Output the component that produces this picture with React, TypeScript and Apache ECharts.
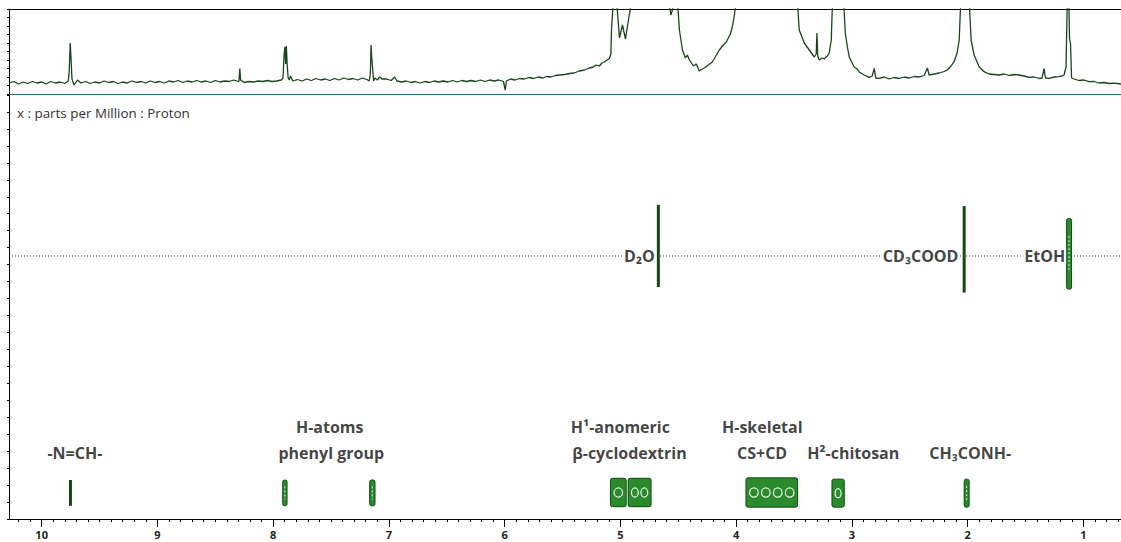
import React, { useEffect, useRef } from "react";
import * as echarts from "echarts";

const PPM_MIN = 0.675;
const PPM_MAX = 10.282;

const majorTicks = [1, 2, 3, 4, 5, 6, 7, 8, 9, 10];

// 1D proton spectrum trace: [ppm, intensity]
const spectrum: [number, number][] = [
  [10.28, 11], [10.24, 12.5], [10.2, 10], [10.16, 12], [10.12, 10.5], [10.08, 12.5], [10.04, 11], [10.0, 12], [9.96, 10], [9.92, 12.5], [9.88, 11], [9.84, 12], [9.8, 10.5], [9.77, 13],
  [9.762, 22], [9.753, 51], [9.746, 36], [9.738, 15], [9.72, 9], [9.69, 14], [9.66, 11],
  [9.62, 12.5], [9.58, 10.5], [9.54, 12], [9.5, 11], [9.46, 13], [9.42, 11.5], [9.38, 12.5], [9.34, 10.5], [9.3, 12], [9.26, 11], [9.22, 13], [9.18, 11.5], [9.14, 12.5], [9.1, 11], [9.06, 13], [9.02, 11.5], [8.98, 12.5], [8.94, 11], [8.9, 13], [8.86, 12], [8.82, 13.5], [8.78, 11.5], [8.74, 13], [8.7, 12], [8.66, 13.5], [8.62, 12], [8.58, 13], [8.54, 11.5], [8.5, 13.5], [8.46, 12], [8.42, 13], [8.38, 12.5], [8.34, 14], [8.3, 12.5],
  [8.295, 13], [8.288, 25.5], [8.281, 14], [8.25, 11.5], [8.21, 12.5], [8.17, 12], [8.13, 13], [8.09, 12.5], [8.05, 13.5], [8.01, 12.5], [7.97, 13], [7.93, 14],
  [7.915, 16], [7.905, 40], [7.898, 47], [7.892, 30], [7.886, 48], [7.879, 30], [7.87, 16], [7.86, 14], [7.85, 18], [7.83, 13],
  [7.79, 14.5], [7.75, 13], [7.71, 15], [7.67, 13.5], [7.63, 15.5], [7.59, 14], [7.55, 15], [7.51, 13.5], [7.47, 15.5], [7.43, 14], [7.39, 16], [7.35, 14.5], [7.31, 15.5], [7.27, 14], [7.23, 16], [7.19, 14.5], [7.17, 13],
  [7.16, 20], [7.154, 49], [7.148, 36], [7.14, 25], [7.132, 13], [7.12, 16], [7.1, 14], [7.08, 17], [7.06, 15],
  [7.02, 15], [6.98, 13.5], [6.95, 17], [6.93, 13], [6.89, 12], [6.85, 13], [6.81, 11.5], [6.77, 12.5], [6.73, 11], [6.69, 12.5], [6.65, 11.5], [6.61, 13], [6.57, 12], [6.53, 13], [6.49, 12], [6.45, 13.5], [6.41, 12], [6.37, 13.5], [6.33, 12.5], [6.29, 13.5], [6.25, 12.5], [6.21, 14], [6.17, 12.5], [6.13, 14], [6.09, 13], [6.05, 14], [6.01, 12.5],
  [5.995, 4], [5.985, 13], [5.95, 15], [5.91, 14], [5.87, 15.5], [5.83, 15], [5.79, 16.5], [5.75, 15.5], [5.71, 17], [5.67, 16], [5.638, 17.5], [5.6, 17], [5.56, 18.5], [5.526, 19], [5.48, 19.5], [5.44, 20.5], [5.4, 21], [5.354, 23], [5.31, 24], [5.267, 26], [5.235, 27], [5.207, 29], [5.181, 28], [5.16, 31], [5.138, 32], [5.115, 34], [5.095, 35.5], [5.082, 40],
  [5.077, 64], [5.06, 95], [5.034, 95], [5.008, 56], [4.982, 69], [4.956, 55], [4.922, 80], [4.896, 95], [4.585, 95], [4.564, 79], [4.521, 95], [4.508, 95],
  [4.49, 64], [4.464, 44], [4.438, 36], [4.421, 39], [4.404, 34], [4.38, 30], [4.369, 28], [4.344, 30], [4.318, 23], [4.292, 25], [4.275, 26], [4.24, 29], [4.206, 32], [4.18, 37], [4.145, 44], [4.111, 49], [4.085, 52], [4.05, 60], [4.033, 67], [4.016, 78], [3.998, 95],
  [3.472, 95], [3.455, 64], [3.411, 51], [3.368, 44], [3.325, 37], [3.308, 40], [3.302, 61], [3.295, 38], [3.282, 34], [3.256, 36], [3.239, 35], [3.213, 38], [3.196, 41], [3.178, 54], [3.167, 95],
  [3.072, 95], [3.057, 61], [3.04, 48], [3.023, 37], [2.997, 31], [2.98, 27], [2.954, 25], [2.937, 22], [2.893, 19], [2.85, 16.7], [2.824, 18], [2.807, 25.7], [2.794, 16], [2.764, 15.7], [2.721, 17], [2.678, 15], [2.635, 16.5], [2.591, 15.5], [2.548, 17], [2.505, 16], [2.462, 17.5], [2.419, 17], [2.376, 18.5], [2.347, 26], [2.333, 19], [2.289, 20], [2.246, 21], [2.203, 22.5], [2.177, 24], [2.143, 28], [2.117, 32.3], [2.091, 41], [2.073, 54], [2.059, 95],
  [1.987, 95], [1.97, 54], [1.944, 39], [1.918, 32], [1.901, 27.3], [1.858, 22.3], [1.815, 20], [1.771, 19.5], [1.728, 19], [1.685, 20], [1.642, 18.5], [1.599, 19.5], [1.556, 19], [1.513, 18], [1.469, 16.7], [1.426, 17], [1.383, 15.5], [1.357, 16], [1.34, 25.7], [1.327, 16], [1.297, 15.7], [1.254, 17], [1.211, 17.3], [1.184, 18], [1.167, 19], [1.15, 27], [1.139, 95],
  [1.126, 95], [1.12, 56], [1.111, 50], [1.102, 16], [1.081, 15], [1.038, 13.5], [0.995, 14], [0.951, 12.3], [0.908, 12.5], [0.865, 11], [0.822, 11.5], [0.779, 10.5], [0.735, 10.8], [0.675, 10],
];

// 2D cross peaks: ppm extent (left/right) and vertical extent (low/high)
const peakPpmLeft = [9.764, 7.917, 7.166, 5.086, 4.933, 3.915, 3.172, 2.03, 4.685, 2.043, 1.145];
const peakPpmRight = [9.738, 7.88, 7.12, 4.95, 4.735, 3.469, 3.066, 1.987, 4.659, 2.017, 1.102];
const peakLow = [3.1, 3.1, 3.1, 2.9, 2.9, 2.8, 2.8, 2.8, 54.7, 53.4, 54.2];
const peakHigh = [9.2, 9.2, 9.2, 9.6, 9.6, 9.7, 9.4, 9.4, 74.1, 73.8, 70.9];
const peakKind = [0, 1, 1, 1, 1, 1, 1, 1, 0, 0, 1];

// annotations
const labelTexts = ["-N=CH-", "H-atoms", "phenyl group", "H¹-anomeric", "β-cyclodextrin", "H-skeletal", "CS+CD", "H²-chitosan", "CH₃CONH-", "D₂O", "CD₃COOD", "EtOH"];
const labelPpm = [9.713, 7.511, 7.498, 5.0, 4.922, 3.774, 3.776, 2.988, 1.978, 4.836, 2.406, 1.334];
const labelLevel = [15.57, 21.77, 15.57, 21.77, 15.57, 21.77, 15.57, 15.57, 15.57, 62.03, 62.03, 62.03];
const solventLevel = 62.03;

const FONT = "'Open Sans', Lato, sans-serif";

export default function App() {
  const ref = useRef<HTMLDivElement>(null);
  useEffect(() => {
    const chart = echarts.init(ref.current!, null, { renderer: "svg" });
    const minorTicks: number[] = [];
    for (let i = 7; i <= 102; i++) minorTicks.push(i / 10);

    const peakData = peakPpmLeft.map((l, i) => [l, peakPpmRight[i], peakLow[i], peakHigh[i], peakKind[i]]);
    const labelData = labelTexts.map((t, i) => {
      const solvent = labelLevel[i] > 50;
      return {
        name: t,
        value: [labelPpm[i], labelLevel[i]],
        label: solvent ? { backgroundColor: "#fff", padding: [1, 1] } : {},
      };
    });

    const option: any = {
      animation: false,
      backgroundColor: "#fff",
      grid: [
        { left: 9, top: 9, width: 1113, height: 85 },
        { left: 9, top: 95, width: 1113, height: 424 },
      ],
      xAxis: [
        {
          gridIndex: 0, type: "value", min: PPM_MIN, max: PPM_MAX, inverse: true, position: "bottom",
          axisLine: { show: true, lineStyle: { color: "#2b6b6b", width: 1 } },
          axisTick: { show: false }, axisLabel: { show: false }, splitLine: { show: false },
        },
        {
          gridIndex: 0, type: "value", min: PPM_MIN, max: PPM_MAX, inverse: true, position: "top",
          axisLine: { show: true, lineStyle: { color: "#000", width: 1 } },
          axisTick: { show: false }, axisLabel: { show: false }, splitLine: { show: false },
        },
        {
          gridIndex: 1, type: "value", min: PPM_MIN, max: PPM_MAX, inverse: true, position: "bottom",
          axisLine: { show: true, lineStyle: { color: "#000", width: 1 } },
          axisTick: { show: true, customValues: minorTicks, length: 3, lineStyle: { color: "#000" } },
          axisLabel: {
            show: true, customValues: majorTicks, margin: 9, fontSize: 11, lineHeight: 12, fontWeight: "bold",
            color: "#222", fontFamily: FONT, formatter: (v: number) => String(Math.round(v)),
          },
          splitLine: { show: false },
        },
        {
          gridIndex: 1, type: "value", min: PPM_MIN, max: PPM_MAX, inverse: true, position: "bottom",
          axisLine: { show: false },
          axisTick: { show: true, customValues: majorTicks, length: 8, lineStyle: { color: "#000" } },
          axisLabel: { show: false }, splitLine: { show: false },
        },
      ],
      yAxis: [
        {
          gridIndex: 0, type: "value", min: 0, max: 85, interval: 8.5,
          axisLine: { show: true, lineStyle: { color: "#000" } },
          axisTick: { show: true, length: 2, lineStyle: { color: "#000" } },
          axisLabel: { show: false }, splitLine: { show: false },
        },
        {
          gridIndex: 1, type: "value", min: 0, max: 100, interval: 4,
          axisLine: { show: true, lineStyle: { color: "#000" } },
          axisTick: { show: true, length: 2, lineStyle: { color: "#000" } },
          axisLabel: { show: false }, splitLine: { show: false },
        },
      ],
      series: [
        {
          type: "line", xAxisIndex: 0, yAxisIndex: 0, data: spectrum, showSymbol: false, symbol: "none",
          clip: true, lineStyle: { color: "#1a441a", width: 1.3 }, silent: true,
        },
        {
          type: "line", xAxisIndex: 2, yAxisIndex: 1,
          data: [[PPM_MAX, solventLevel], [PPM_MIN, solventLevel]],
          showSymbol: false, symbol: "none",
          lineStyle: { color: "#333", width: 1, type: [1, 2] }, silent: true, z: 1,
        },
        {
          type: "custom", xAxisIndex: 2, yAxisIndex: 1, data: peakData, z: 3,
          encode: { x: [0, 1], y: [2, 3] },
          renderItem: (_params: any, api: any) => {
            const a = api.coord([api.value(0), api.value(3)]);
            const b = api.coord([api.value(1), api.value(2)]);
            const kind = api.value(4);
            const x = Math.min(a[0], b[0]);
            const y = Math.min(a[1], b[1]);
            const w = Math.abs(b[0] - a[0]);
            const h = Math.abs(b[1] - a[1]);
            const children: any[] = [];
            if (kind === 0) {
              children.push({ type: "rect", shape: { x, y, width: w, height: h }, style: { fill: "#174717" } });
            } else {
              children.push({
                type: "rect", shape: { x, y, width: w, height: h, r: 2 },
                style: { fill: "#2b8a2b", stroke: "#0f4a0f", lineWidth: 1 },
              });
              if (w >= 10) {
                const n = Math.max(1, Math.round(w / 13));
                const seg = (w - 4) / n;
                for (let i = 0; i < n; i++) {
                  children.push({
                    type: "ellipse",
                    shape: { cx: x + 2 + seg * (i + 0.5), cy: y + h / 2, rx: seg * 0.36, ry: h * 0.16 },
                    style: { fill: "none", stroke: "#eaf6ea", lineWidth: 1.2 },
                  });
                }
              } else {
                children.push({
                  type: "line",
                  shape: { x1: x + w / 2, y1: y + h * 0.25, x2: x + w / 2, y2: y + h * 0.75 },
                  style: { stroke: "#d8eed8", lineWidth: 1, lineDash: [2, 2] },
                });
              }
            }
            return { type: "group", children };
          },
          silent: true,
        },
        {
          type: "scatter", xAxisIndex: 2, yAxisIndex: 1, symbolSize: 0, z: 5, silent: true,
          data: labelData,
          label: {
            show: true, position: "inside", formatter: (p: any) => p.name,
            fontFamily: FONT, fontWeight: "bold", fontSize: 16, color: "#111",
          },
        },
      ],
      graphic: [
        {
          type: "text", left: 17, top: 106,
          style: { text: "x : parts per Million : Proton", fontFamily: FONT, fontSize: 13.4, fill: "#333" },
        },
      ],
    };
    chart.setOption(option);
    return () => chart.dispose();
  }, []);
  return (
    <div
      ref={ref}
      style={{ position: "fixed", left: 0, top: 0, width: 1121, height: 542, background: "#fff" }}
    />
  );
}
